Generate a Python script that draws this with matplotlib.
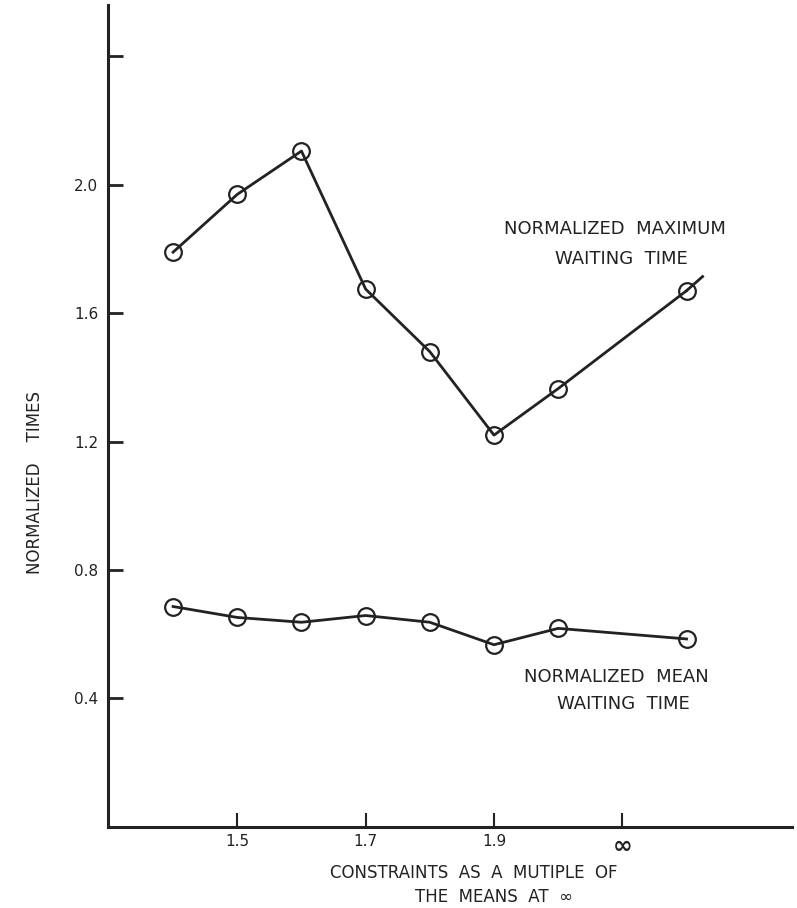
import matplotlib
matplotlib.use("Agg")
import matplotlib.pyplot as plt

# constraint multiples (last point sits past the "infinity" tick)
x_vals = [1.4, 1.5, 1.6, 1.7, 1.8, 1.9, 2.0, 2.2]
max_wait = [1.79, 1.97, 2.105, 1.675, 1.48, 1.22, 1.365, 1.67]
mean_wait = [0.686, 0.652, 0.637, 0.658, 0.637, 0.567, 0.618, 0.585]
# the max curve is drawn a little past its last circle
max_tail_x = [2.2, 2.225]
max_tail_y = [1.67, 1.714]

x_ticks = [1.5, 1.7, 1.9, 2.1]
x_ticklabels = ["1.5", "1.7", "1.9", "∞"]
y_ticks = [0.4, 0.8, 1.2, 1.6, 2.0, 2.4]
y_ticklabels = ["0.4", "0.8", "1.2", "1.6", "2.0", ""]

INK = "#222222"
plt.rcParams["font.family"] = ["DejaVu Sans"]

fig = plt.figure(figsize=(7.97, 9.08), dpi=100)
ax = fig.add_axes([0.1355, 0.0895, 0.858, 0.905])

ax.plot(x_vals, max_wait, color=INK, lw=2.0, marker="o", ms=12,
        mfc="none", mec=INK, mew=1.6, zorder=3)
ax.plot(max_tail_x, max_tail_y, color=INK, lw=2.0, zorder=3)
ax.plot(x_vals, mean_wait, color=INK, lw=2.0, marker="o", ms=12,
        mfc="none", mec=INK, mew=1.6, zorder=3)

ax.set_xlim(1.2986, 2.364)
ax.set_ylim(0, 2.56)

for side in ["top", "right"]:
    ax.spines[side].set_visible(False)
for side in ["left", "bottom"]:
    ax.spines[side].set_linewidth(2.2)
    ax.spines[side].set_color(INK)

ax.set_xticks(x_ticks)
ax.set_xticklabels(x_ticklabels)
ax.set_yticks(y_ticks)
ax.set_yticklabels(y_ticklabels)
ax.tick_params(axis="y", direction="in", length=11, width=2, color=INK,
               pad=-2, labelsize=11, labelcolor=INK)
ax.tick_params(axis="x", direction="in", length=10, width=1.5, color=INK,
               pad=5, labelsize=11, labelcolor=INK)
for lab in ax.get_yticklabels():
    lab.set_horizontalalignment("right")
    lab.set_x(-0.018)
# the infinity mark is drawn big in the original
ax.get_xticklabels()[-1].set_fontsize(17)
ax.get_xticklabels()[-1].set_fontweight("bold")

txt = dict(color=INK, fontsize=13, ha="center", va="center")
ax.text(2.088, 1.862, "NORMALIZED  MAXIMUM", **txt)
ax.text(2.098, 1.769, "WAITING  TIME", **txt)
ax.text(2.091, 0.466, "NORMALIZED  MEAN", **txt)
ax.text(2.102, 0.381, "WAITING  TIME", **txt)

fig.text(474 / 797, 1 - 873 / 908, "CONSTRAINTS  AS  A  MUTIPLE  OF",
         color=INK, fontsize=12, ha="center", va="center")
fig.text(494 / 797, 1 - 897 / 908, "THE  MEANS  AT  ∞",
         color=INK, fontsize=12, ha="center", va="center")
fig.text(35 / 797, 1 - 482 / 908, "NORMALIZED    TIMES", rotation=90,
         color=INK, fontsize=12, ha="center", va="center")

fig.savefig("out.png", dpi=100, facecolor="white")
